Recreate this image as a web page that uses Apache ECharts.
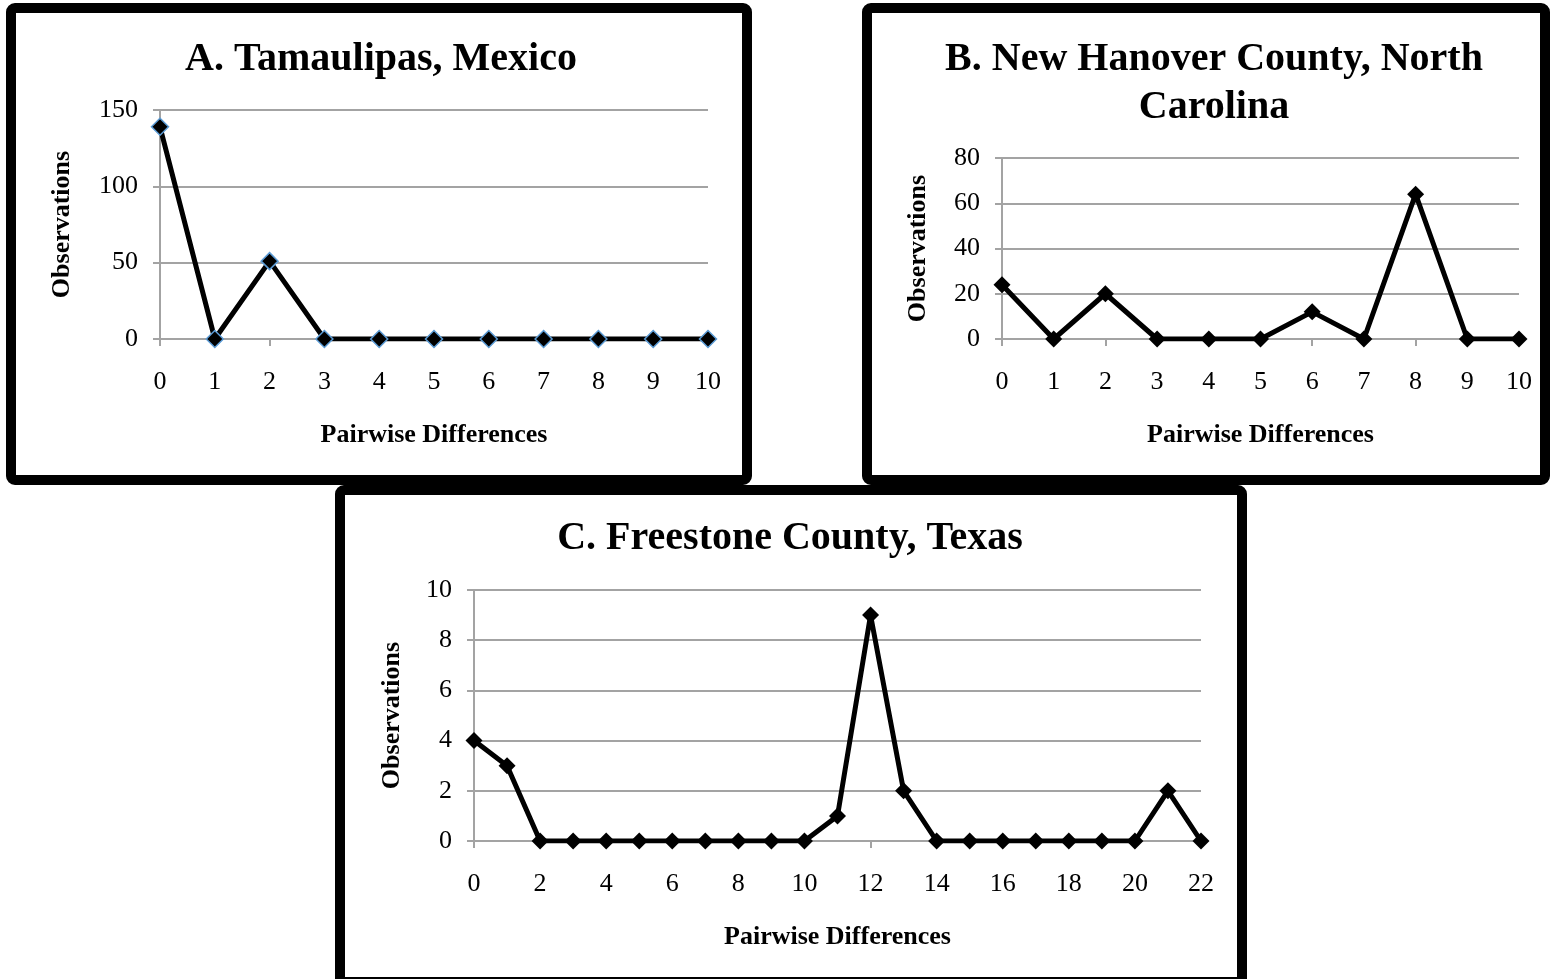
<!DOCTYPE html>
<html>
<head>
<meta charset="utf-8">
<script src="https://cdn.jsdelivr.net/npm/echarts@6/dist/echarts.min.js"></script>
<style>
html,body{margin:0;padding:0;background:#fff;}
#main{width:1550px;height:979px;}
</style>
</head>
<body>
<div id="main"></div>
<script>
// ---- Data ----
var titleA = 'A. Tamaulipas, Mexico';
var titleB = 'B. New Hanover County, North\nCarolina';
var titleC = 'C. Freestone County, Texas';
var xName = 'Pairwise Differences';
var yName = 'Observations';

var categoriesA = ['0','1','2','3','4','5','6','7','8','9','10'];
var valuesA = [139, 0, 51, 0, 0, 0, 0, 0, 0, 0, 0];

var categoriesB = ['0','1','2','3','4','5','6','7','8','9','10'];
var valuesB = [24, 0, 20, 0, 0, 0, 12, 0, 64, 0, 0];

var categoriesC = ['0','1','2','3','4','5','6','7','8','9','10','11','12','13','14','15','16','17','18','19','20','21','22'];
var valuesC = [4, 3, 0, 0, 0, 0, 0, 0, 0, 0, 0, 1, 9, 2, 0, 0, 0, 0, 0, 0, 0, 2, 0];

var yMaxA = 150, yStepA = 50;
var yMaxB = 80, yStepB = 20;
var yMaxC = 10, yStepC = 2;

// ---- Chart ----
var FONT = '"Liberation Serif", "Times New Roman", serif';
var GRID_COLOR = '#a3a3a3';
var chart = echarts.init(document.getElementById('main'), null, {renderer: 'canvas'});

function xAxisCfg(idx, cats, labelInterval) {
  return {
    type: 'category', gridIndex: idx, data: cats, boundaryGap: false,
    name: xName, nameLocation: 'middle', nameGap: 83,
    nameTextStyle: {fontFamily: FONT, fontSize: 26, fontWeight: 'bold', color: '#000'},
    axisLine: {show: true, lineStyle: {color: GRID_COLOR, width: 2}},
    axisTick: {show: true, interval: 1, length: 7, alignWithLabel: true, lineStyle: {color: GRID_COLOR, width: 2}},
    axisLabel: {interval: labelInterval, margin: 30, fontFamily: FONT, fontSize: 26, color: '#000'},
    splitLine: {show: false}
  };
}
function yAxisCfg(idx, max, step, gap) {
  return {
    type: 'value', gridIndex: idx, min: 0, max: max, interval: step,
    name: yName, nameLocation: 'middle', nameGap: gap, nameRotate: 90,
    nameTextStyle: {fontFamily: FONT, fontSize: 26, fontWeight: 'bold', color: '#000'},
    axisLine: {show: true, lineStyle: {color: GRID_COLOR, width: 2}},
    axisTick: {show: true, length: 7, lineStyle: {color: GRID_COLOR, width: 2}},
    axisLabel: {margin: 22, fontFamily: FONT, fontSize: 26, color: '#000'},
    splitLine: {show: true, lineStyle: {color: GRID_COLOR, width: 2}}
  };
}
function seriesCfg(idx, vals, borderColor) {
  return {
    type: 'line', xAxisIndex: idx, yAxisIndex: idx, data: vals,
    symbol: 'diamond', symbolSize: 17, showAllSymbol: true,
    lineStyle: {color: '#000', width: 5},
    itemStyle: {color: '#000', borderColor: borderColor, borderWidth: borderColor ? 1.5 : 0},
    animation: false, z: 3
  };
}

var option = {
  backgroundColor: '#fff',
  animation: false,
  title: [
    {text: titleA, left: 376, top: 35, textAlign: 'center',
     textStyle: {fontFamily: FONT, fontSize: 40, fontWeight: 'bold', color: '#000'}},
    {text: titleB, left: 1209, top: 31, textAlign: 'center',
     textStyle: {fontFamily: FONT, fontSize: 40, fontWeight: 'bold', color: '#000', lineHeight: 48}},
    {text: titleC, left: 785, top: 514, textAlign: 'center',
     textStyle: {fontFamily: FONT, fontSize: 40, fontWeight: 'bold', color: '#000'}}
  ],
  grid: [
    {left: 160, right: 842, top: 110, bottom: 640},
    {left: 1002, right: 31, top: 158, bottom: 640},
    {left: 474, right: 349, top: 590, bottom: 138}
  ],
  xAxis: [
    xAxisCfg(0, categoriesA, 0),
    xAxisCfg(1, categoriesB, 0),
    xAxisCfg(2, categoriesC, 1)
  ],
  yAxis: [
    yAxisCfg(0, yMaxA, yStepA, 85),
    yAxisCfg(1, yMaxB, yStepB, 71),
    yAxisCfg(2, yMaxC, yStepC, 69)
  ],
  series: [
    seriesCfg(0, valuesA, '#5b9bd5'),
    seriesCfg(1, valuesB, null),
    seriesCfg(2, valuesC, null)
  ],
  graphic: [
    {type: 'rect', shape: {x: 340, y: 490, width: 902, height: 492, r: 4},
     style: {fill: 'none', stroke: '#000', lineWidth: 10}, z: 10},
    {type: 'rect', shape: {x: 11, y: 8, width: 736, height: 472, r: 4},
     style: {fill: 'none', stroke: '#000', lineWidth: 10}, z: 11},
    {type: 'rect', shape: {x: 867, y: 8, width: 678, height: 472, r: 4},
     style: {fill: 'none', stroke: '#000', lineWidth: 10}, z: 11}
  ]
};
chart.setOption(option);
</script>
</body>
</html>
